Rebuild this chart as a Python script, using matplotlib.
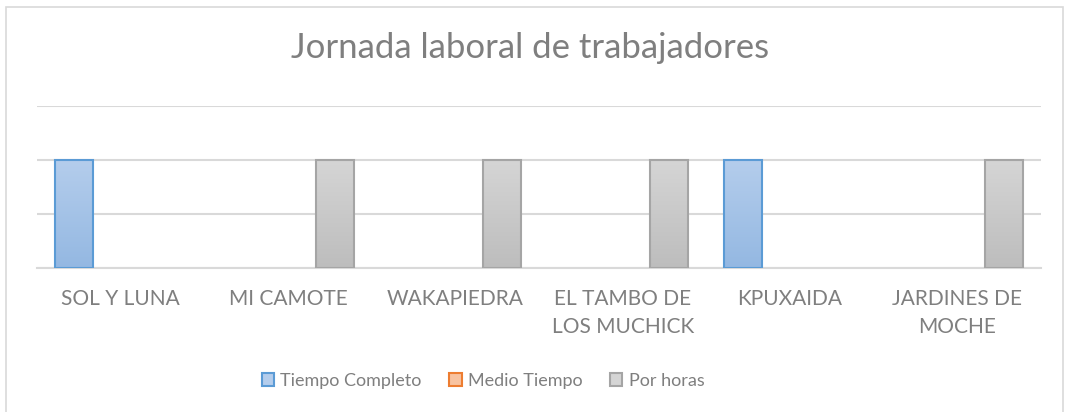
import numpy as np
import matplotlib.pyplot as plt
from matplotlib.patches import Patch, Rectangle
from matplotlib.colors import LinearSegmentedColormap

plt.rcParams['font.family'] = ['Lato', 'DejaVu Sans']

# Data
categorias = ['SOL Y LUNA', 'MI CAMOTE', 'WAKAPIEDRA', 'EL TAMBO DE\nLOS MUCHICK',
              'KPUXAIDA', 'JARDINES DE\nMOCHE']
series = ['Tiempo Completo', 'Medio Tiempo', 'Por horas']
tiempo_completo = [2, 0, 0, 0, 2, 0]
medio_tiempo = [0, 0, 0, 0, 0, 0]
por_horas = [0, 2, 2, 2, 0, 2]

# colours: (top, bottom, edge)
estilos = [('#b4cdec', '#94b8e2', '#5b9bd5'),
           ('#f8c3a0', '#f4a77a', '#ed7d31'),
           ('#d5d5d5', '#bdbdbd', '#a5a5a5')]

text_col = '#7f7f7f'
grid_col = '#d9d9d9'

fig = plt.figure(figsize=(10.66, 4.12), dpi=100)
ax = fig.add_axes([37 / 1066, 144.3 / 412, 1004 / 1066, 162 / 412])

x = np.arange(len(categorias))
ancho = 0.227
paso = 0.278

for i, valores in enumerate([tiempo_completo, medio_tiempo, por_horas]):
    top, bottom, edge = estilos[i]
    cmap = LinearSegmentedColormap.from_list('g%d' % i, [bottom, top])
    barras = ax.bar(x + (i - 1) * paso, valores, ancho, color='none',
                    edgecolor='none', linewidth=0, zorder=3)
    for b in barras:
        if b.get_height() <= 0:
            continue
        grad = np.linspace(0, 1, 100).reshape(-1, 1)
        im = ax.imshow(grad, cmap=cmap, origin='lower', aspect='auto',
                       extent=(b.get_x(), b.get_x() + b.get_width(), 0, b.get_height()),
                       zorder=3.5)
        im.set_clip_path(b)
        ax.add_patch(Rectangle((b.get_x(), 0), b.get_width(), b.get_height(),
                               fill=False, edgecolor=edge, linewidth=1.5, zorder=4))

ax.set_xlim(-0.5, len(categorias) - 0.5)
ax.set_ylim(0, 3)
ax.set_yticks([0, 1, 2, 3])
ax.set_yticklabels([])
ax.tick_params(axis='y', length=0)
ax.yaxis.grid(True, color=grid_col, linewidth=1.5, zorder=0)
ax.set_xticks(x)
ax.set_xticklabels(categorias, fontsize=15, color=text_col, linespacing=1.55)
ax.tick_params(axis='x', length=0, pad=15)
for s in ['top', 'right', 'left']:
    ax.spines[s].set_visible(False)
ax.spines['bottom'].set_color(grid_col)
ax.spines['bottom'].set_linewidth(1.5)

fig.text(0.497, (412 - 58) / 412, 'Jornada laboral de trabajadores',
         fontsize=25, color=text_col, ha='center', va='baseline')

handles = [Patch(facecolor=estilos[i][0], edgecolor=estilos[i][2], linewidth=1.5)
           for i in range(3)]
fig.legend(handles, series, loc='center', bbox_to_anchor=(0.453, 0.075), ncol=3,
           frameon=False, fontsize=13, labelcolor=text_col, handlelength=0.7,
           handleheight=0.7, handletextpad=0.35, columnspacing=1.5)

# chart frame
fig.patches.append(Rectangle((6 / 1066, -0.05), 1057 / 1066, 1.05 - 7 / 412,
                             transform=fig.transFigure, fill=False,
                             edgecolor='#d9d9d9', linewidth=1.2))

fig.savefig('out.png', dpi=100)
